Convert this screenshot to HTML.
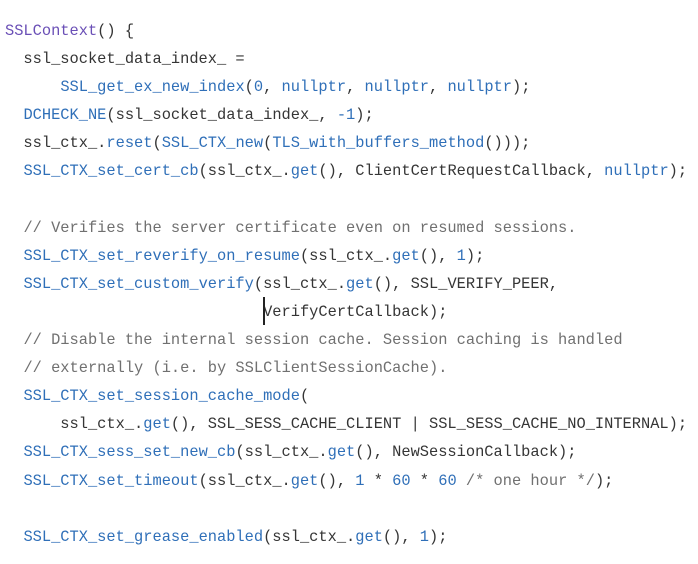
<!DOCTYPE html>
<html>
<head>
<meta charset="utf-8">
<style>
  html, body { margin: 0; padding: 0; background: #ffffff; }
  body { width: 698px; height: 564px; overflow: hidden; position: relative; }
  pre {
    position: absolute; left: 5px; top: 17px; margin: 0;
    font-family: "Liberation Mono", "DejaVu Sans Mono", monospace;
    font-size: 15.37px; line-height: 28.1px;
    color: #353535; white-space: pre;
  }
  .k { color: #6a4fb6; }
  .f { color: #2f6fb8; }
  .c { color: #707070; }
  .cur { position: absolute; left: 263px; top: 297px; width: 2px; height: 28px; background: #222; }
</style>
</head>
<body>
<pre><span class="k">SSLContext</span>() {
  ssl_socket_data_index_ =
      <span class="f">SSL_get_ex_new_index</span>(<span class="f">0</span>, <span class="f">nullptr</span>, <span class="f">nullptr</span>, <span class="f">nullptr</span>);
  <span class="f">DCHECK_NE</span>(ssl_socket_data_index_, <span class="f">-1</span>);
  ssl_ctx_.<span class="f">reset</span>(<span class="f">SSL_CTX_new</span>(<span class="f">TLS_with_buffers_method</span>()));
  <span class="f">SSL_CTX_set_cert_cb</span>(ssl_ctx_.<span class="f">get</span>(), ClientCertRequestCallback, <span class="f">nullptr</span>);

  <span class="c">// Verifies the server certificate even on resumed sessions.</span>
  <span class="f">SSL_CTX_set_reverify_on_resume</span>(ssl_ctx_.<span class="f">get</span>(), <span class="f">1</span>);
  <span class="f">SSL_CTX_set_custom_verify</span>(ssl_ctx_.<span class="f">get</span>(), SSL_VERIFY_PEER,
                            VerifyCertCallback);
  <span class="c">// Disable the internal session cache. Session caching is handled</span>
  <span class="c">// externally (i.e. by SSLClientSessionCache).</span>
  <span class="f">SSL_CTX_set_session_cache_mode</span>(
      ssl_ctx_.<span class="f">get</span>(), SSL_SESS_CACHE_CLIENT | SSL_SESS_CACHE_NO_INTERNAL);
  <span class="f">SSL_CTX_sess_set_new_cb</span>(ssl_ctx_.<span class="f">get</span>(), NewSessionCallback);
  <span class="f">SSL_CTX_set_timeout</span>(ssl_ctx_.<span class="f">get</span>(), <span class="f">1</span> * <span class="f">60</span> * <span class="f">60</span> <span class="c">/* one hour */</span>);

  <span class="f">SSL_CTX_set_grease_enabled</span>(ssl_ctx_.<span class="f">get</span>(), <span class="f">1</span>);</pre>
<div class="cur"></div>
</body>
</html>
